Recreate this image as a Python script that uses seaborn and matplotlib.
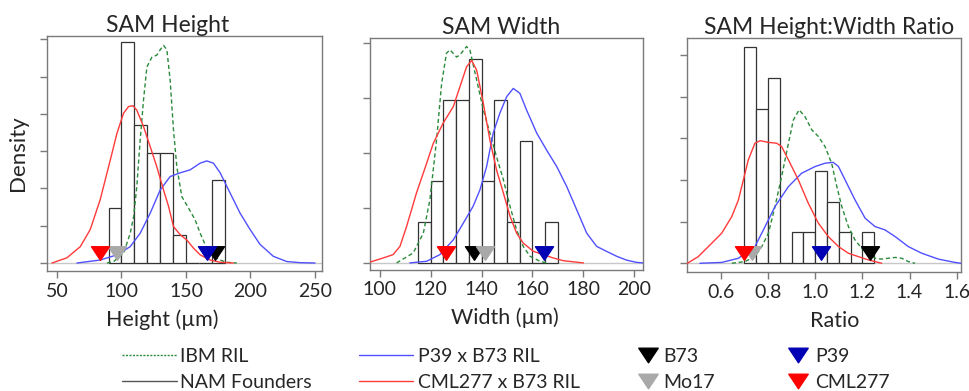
import numpy as np
import pandas as pd
import matplotlib
matplotlib.use("Agg")
import matplotlib.pyplot as plt
from matplotlib.lines import Line2D
from matplotlib.path import Path
import seaborn as sns

# ---- density curves ----
# SAM height (um)
height_ibm_x = [88.7, 93.9, 101.6, 106.8, 109.4, 111.9, 114.5, 117.1, 119.7, 123.5, 127.4, 130.0, 132.6,
                135.2, 137.7, 140.3, 142.9, 146.8, 151.9, 157.1, 161.0, 166.1, 171.3, 176.5, 181.6, 189.4]
height_ibm_y = [0, 0.0002, 0.0013, 0.0040, 0.0062, 0.0103, 0.0165, 0.0219, 0.0263, 0.0276, 0.0279, 0.0286, 0.0292,
                0.0286, 0.0246, 0.0179, 0.0129, 0.0089, 0.0074, 0.0058, 0.0040, 0.0020, 0.0009, 0.0004, 0.0001, 0]
height_cml_x = [46.1, 57.7, 68.1, 75.8, 83.5, 91.3, 96.5, 101.6, 105.5, 108.9, 111.9, 117.1, 122.3, 127.4,
                132.6, 136.5, 140.3, 145.5, 150.6, 155.8, 161.0, 168.7, 176.5, 186.8]
height_cml_y = [0, 0.0007, 0.0022, 0.0045, 0.0085, 0.0138, 0.0174, 0.0201, 0.0210, 0.0211, 0.0205, 0.0183, 0.0156,
                0.0129, 0.0098, 0.0076, 0.0049, 0.0038, 0.0031, 0.0020, 0.0011, 0.0004, 0.0001, 0]
height_p39_x = [65.5, 83.5, 96.5, 106.8, 114.5, 122.3, 130.0, 137.7, 145.5, 153.2, 161.0, 166.1, 171.3, 176.5,
                184.2, 191.9, 199.7, 207.4, 217.7, 228.1, 238.4, 250.0]
height_p39_y = [0, 0.0004, 0.0011, 0.0022, 0.0040, 0.0067, 0.0098, 0.0116, 0.0121, 0.0125, 0.0134, 0.0137, 0.0134,
                0.0121, 0.0094, 0.0067, 0.0045, 0.0025, 0.0009, 0.0002, 0.00005, 0]

# SAM width (um)
width_ibm_x = [106.6, 113.1, 117.1, 119.7, 122.3, 124.3, 126.2, 127.6, 130.2, 131.5, 134.1, 135.4, 138.1,
               140.7, 143.3, 145.9, 148.6, 151.2, 153.8, 156.4, 159.1, 163.0, 165.6]
width_ibm_y = [0, 0.0018, 0.0054, 0.0115, 0.0223, 0.0326, 0.0381, 0.0387, 0.0374, 0.0378, 0.0393, 0.0387, 0.0332,
               0.0278, 0.0236, 0.0193, 0.0151, 0.0103, 0.0060, 0.0030, 0.0012, 0.0003, 0]
width_cml_x = [95.8, 101.3, 105.2, 107.9, 110.5, 114.4, 118.4, 121.0, 124.9, 128.9, 131.5, 134.1, 136.1, 138.1,
               140.7, 143.3, 145.9, 148.6, 151.2, 153.8, 156.4, 160.4, 164.3, 168.2, 172.2, 176.1, 180.1]
width_cml_y = [0.0001, 0.0009, 0.0015, 0.0030, 0.0066, 0.0127, 0.0181, 0.0217, 0.0254, 0.0284, 0.0320, 0.0356,
               0.0368, 0.0350, 0.0290, 0.0223, 0.0169, 0.0127, 0.0085, 0.0054, 0.0036, 0.0021, 0.0015, 0.0009,
               0.0004, 0.0002, 0]
width_p39_x = [111.8, 118.4, 123.6, 128.9, 132.8, 136.7, 139.4, 142.0, 144.6, 147.2, 149.9, 152.5, 155.1,
               157.7, 161.7, 165.6, 169.6, 173.5, 177.4, 181.4, 185.3, 189.2, 193.2, 197.1, 201.0, 203.7]
width_p39_y = [0, 0.0003, 0.0015, 0.0042, 0.0072, 0.0103, 0.0133, 0.0175, 0.0236, 0.0272, 0.0302, 0.0317, 0.0308,
               0.0278, 0.0236, 0.0205, 0.0175, 0.0139, 0.0097, 0.0054, 0.0030, 0.0021, 0.0012, 0.0005, 0.0001, 0]

# SAM height:width ratio
ratio_ibm_x = [0.647, 0.703, 0.745, 0.774, 0.802, 0.830, 0.858, 0.887, 0.908, 0.932, 0.957, 0.986, 1.014, 1.042,
               1.070, 1.092, 1.113, 1.141, 1.169, 1.197, 1.226, 1.254, 1.282, 1.310, 1.339, 1.367, 1.395, 1.423]
ratio_ibm_y = [0, 0.04, 0.16, 0.40, 0.72, 1.36, 2.08, 2.88, 3.44, 3.68, 3.52, 3.20, 3.04, 2.80,
               2.40, 1.84, 1.36, 0.88, 0.56, 0.36, 0.24, 0.12, 0.10, 0.12, 0.14, 0.12, 0.04, 0]
ratio_cml_x = [0.459, 0.505, 0.562, 0.604, 0.647, 0.675, 0.696, 0.717, 0.745, 0.767, 0.802, 0.837, 0.858,
               0.887, 0.929, 0.971, 1.014, 1.056, 1.099, 1.141, 1.183, 1.226, 1.282]
ratio_cml_y = [0, 0.16, 0.48, 0.72, 1.12, 1.52, 2.00, 2.48, 2.88, 2.94, 2.90, 2.88, 2.80,
               2.48, 2.00, 1.44, 0.96, 0.64, 0.40, 0.24, 0.16, 0.08, 0]
ratio_p39_x = [0.512, 0.604, 0.675, 0.745, 0.788, 0.830, 0.887, 0.943, 1.000, 1.042, 1.077, 1.099, 1.127,
               1.169, 1.212, 1.254, 1.296, 1.339, 1.395, 1.452, 1.522, 1.593, 1.618]
ratio_p39_y = [0, 0.02, 0.12, 0.40, 0.88, 1.36, 1.84, 2.16, 2.32, 2.40, 2.42, 2.32, 2.00,
               1.52, 1.08, 0.88, 0.80, 0.64, 0.40, 0.24, 0.10, 0.02, 0]

# ---- NAM founder histograms (counts, 27 lines) ----
nam_n = 27
height_edges = [90, 100, 110, 120, 130, 140, 150, 160, 170, 180]
height_counts = [2, 8, 5, 4, 4, 1, 0, 0, 3]
width_edges = [115, 120, 125, 130, 135, 140, 145, 150, 155, 160, 165, 170]
width_counts = [1, 2, 4, 4, 5, 2, 4, 1, 3, 0, 1]
ratio_edges = [0.70, 0.75, 0.80, 0.85, 0.90, 0.95, 1.00, 1.05, 1.10, 1.15, 1.20, 1.25]
ratio_counts = [7, 5, 6, 0, 1, 1, 3, 2, 1, 0, 1]

# ---- parental inbred values ----
parents = ["B73", "Mo17", "P39", "CML277"]
height_parents = [172.6, 96.5, 166.0, 83.0]
width_parents = [137.0, 141.5, 164.7, 126.0]
ratio_parents = [1.233, 0.731, 1.024, 0.700]

titles = ["SAM Height", "SAM Width", "SAM Height:Width Ratio"]
xlabels = ["Height (\u00b5m)", "Width (\u00b5m)", "Ratio"]

c_ibm = "#2b8a3b"
c_p39 = "#5050ff"
c_cml = "#ff3a3a"
c_nam = "#555555"
parent_colors = ["#000000", "#a9a9a9", "#0000b4", "#ff0000"]
frame_col = "#7a7a7a"

sns.set_theme(style="white")
plt.rcParams["font.family"] = ["Lato", "DejaVu Sans"]

tri = Path([(-1, 0.75), (1, 0.75), (0, -0.75), (-1, 0.75)],
           [Path.MOVETO, Path.LINETO, Path.LINETO, Path.CLOSEPOLY])

fig = plt.figure(figsize=(9.7, 3.91), dpi=100)
boxes = [[0.0481, 0.3069, 0.2838, 0.6018],
         [0.3814, 0.3107, 0.2814, 0.5913],
         [0.7082, 0.3043, 0.2825, 0.5992]]
xlims = [(42.0, 255.4), (96.1, 203.5), (0.457, 1.618)]
ylims = [(-0.00107, 0.0305), (-0.0012, 0.0408), (-0.21, 5.41)]
xticks = [np.arange(50, 251, 50), np.arange(100, 201, 20), np.arange(0.6, 1.61, 0.2)]
yticks = [np.arange(0, 0.0301, 0.005), np.arange(0, 0.0401, 0.01), np.arange(0, 5.1, 1)]
title_x = [0.44, 0.48, 0.52]
label_x = [0.42, 0.494, 0.54]

panels = [
    (height_ibm_x, height_ibm_y, height_p39_x, height_p39_y, height_cml_x, height_cml_y,
     height_edges, height_counts, height_parents),
    (width_ibm_x, width_ibm_y, width_p39_x, width_p39_y, width_cml_x, width_cml_y,
     width_edges, width_counts, width_parents),
    (ratio_ibm_x, ratio_ibm_y, ratio_p39_x, ratio_p39_y, ratio_cml_x, ratio_cml_y,
     ratio_edges, ratio_counts, ratio_parents),
]

for i, (ix, iy, px, py, cx, cy, edges, counts, par) in enumerate(panels):
    ax = fig.add_axes(boxes[i])
    edges = np.array(edges, dtype=float)
    width = edges[1] - edges[0]
    hist_df = pd.DataFrame({"mid": (edges[:-1] + edges[1:]) / 2,
                            "dens": np.array(counts) / (nam_n * width)})

    ax.axhline(0, color="#c8c8c8", lw=1, zorder=1)
    sns.histplot(data=hist_df, x="mid", weights="dens", bins=list(edges), stat="count", ax=ax,
                 color="white", edgecolor="#333333", linewidth=0.9, alpha=1, zorder=2)
    sns.lineplot(x=ix, y=iy, ax=ax, color=c_ibm, lw=1, linestyle=(0, (3, 2)), zorder=3)
    sns.lineplot(x=px, y=py, ax=ax, color=c_p39, lw=1, zorder=3)
    sns.lineplot(x=cx, y=cy, ax=ax, color=c_cml, lw=1, zorder=3)

    ymark = 0.045 * ylims[i][1]
    for val, col in zip(par, parent_colors):
        ax.plot([val], [ymark], marker=tri, ms=13, color=col, mec=col, ls="none", zorder=5)

    ax.set_xlim(*xlims[i])
    ax.set_ylim(*ylims[i])
    ax.set_xticks(xticks[i])
    if i == 2:
        ax.set_xticklabels(["%.1f" % t for t in xticks[i]])
    ax.set_yticks(yticks[i])
    ax.set_yticklabels([])
    ax.tick_params(axis="both", which="major", length=5, width=1, color=frame_col,
                   labelsize=14, pad=3.5, bottom=True, left=True, direction="out")
    for s in ax.spines.values():
        s.set_color(frame_col)
        s.set_linewidth(1)
    ax.set_title(titles[i], fontsize=16.5, pad=3, x=title_x[i])
    ax.set_xlabel(xlabels[i], fontsize=15.5)
    ax.xaxis.set_label_coords(label_x[i], -0.165)
    if i == 0:
        ax.set_ylabel("Density", fontsize=16, labelpad=5)
    else:
        ax.set_ylabel("")

# ---- legends below the panels ----
def tri_handle(col, label):
    return Line2D([], [], marker=tri, ms=14, color=col, ls="none", label=label)

leg_kw = dict(frameon=False, borderpad=0, borderaxespad=0, loc="upper left", fontsize=14,
              labelspacing=0.45)
top = 1 - 348 / 391
fig.legend(handles=[Line2D([], [], color=c_ibm, lw=1, ls=(0, (1.5, 1)), label="IBM RIL"),
                    Line2D([], [], color=c_nam, lw=1, label="NAM Founders")],
           bbox_to_anchor=(122 / 970, top), handlelength=2.84, handletextpad=0.15, **leg_kw)
fig.legend(handles=[Line2D([], [], color=c_p39, lw=1, label="P39 x B73 RIL"),
                    Line2D([], [], color=c_cml, lw=1, label="CML277 x B73 RIL")],
           bbox_to_anchor=(359 / 970, top), handlelength=2.8, handletextpad=0.25, **leg_kw)
fig.legend(handles=[tri_handle(parent_colors[0], "B73"), tri_handle(parent_colors[1], "Mo17")],
           bbox_to_anchor=(638 / 970, top), handlelength=1.0, handletextpad=0.3, **leg_kw)
fig.legend(handles=[tri_handle(parent_colors[2], "P39"), tri_handle(parent_colors[3], "CML277")],
           bbox_to_anchor=(788 / 970, top), handlelength=1.0, handletextpad=0.4, **leg_kw)

fig.savefig("out.png", dpi=100)
